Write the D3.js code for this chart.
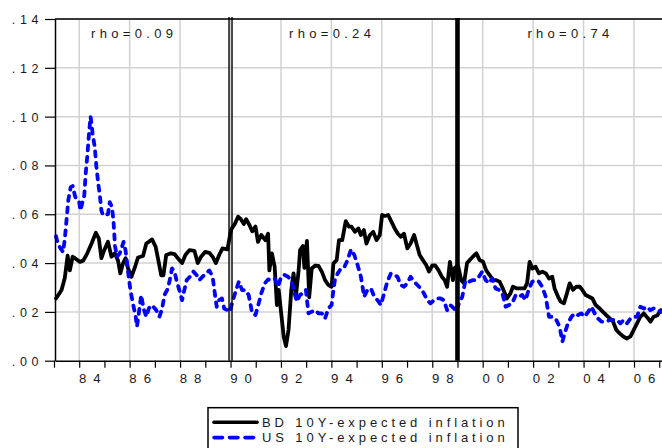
<!DOCTYPE html>
<html>
<head>
<meta charset="utf-8">
<script src="https://cdn.jsdelivr.net/npm/d3@7"></script>
<style>
  html, body { margin: 0; padding: 0; background: #fff; }
  svg { display: block; }
  text { font-family: "Liberation Sans", Arial, sans-serif; fill: #1a1a1a; }
</style>
</head>
<body>
<svg id="chart" width="662" height="448"></svg>
<script>
// German (BD) 10-year expected inflation, monthly-ish readings (decimal year, rate)
const bdDates = [
  1983.08, 1983.30, 1983.43, 1983.54, 1983.63, 1983.74, 1983.83, 1984.03, 1984.16, 1984.32,
  1984.49, 1984.66, 1984.78, 1984.88, 1984.97, 1985.14, 1985.28, 1985.41, 1985.54, 1985.63,
  1985.74, 1985.84, 1985.93, 1986.07, 1986.20, 1986.33, 1986.53, 1986.66, 1986.76, 1986.89,
  1987.03, 1987.16, 1987.25, 1987.34, 1987.45, 1987.64, 1987.78, 1987.91, 1988.08, 1988.21,
  1988.37, 1988.57, 1988.70, 1988.83, 1989.00, 1989.16, 1989.29, 1989.42, 1989.55, 1989.68,
  1989.88, 1989.99, 1990.04, 1990.17, 1990.30, 1990.41, 1990.53, 1990.62, 1990.75, 1990.86,
  1990.99, 1991.09, 1991.22, 1991.38, 1991.49, 1991.54, 1991.64, 1991.75, 1991.84, 1991.91,
  1992.01, 1992.11, 1992.20, 1992.30, 1992.41, 1992.50, 1992.59, 1992.70, 1992.76, 1992.87,
  1992.93, 1993.03, 1993.12, 1993.22, 1993.36, 1993.49, 1993.62, 1993.75, 1993.88, 1994.01,
  1994.08, 1994.21, 1994.30, 1994.43, 1994.57, 1994.70, 1994.80, 1994.93, 1995.07, 1995.17,
  1995.29, 1995.39, 1995.53, 1995.66, 1995.79, 1995.92, 1996.01, 1996.12, 1996.25, 1996.38,
  1996.51, 1996.64, 1996.75, 1996.88, 1997.01, 1997.14, 1997.28, 1997.41, 1997.50, 1997.63,
  1997.76, 1997.87, 1998.00, 1998.12, 1998.25, 1998.38, 1998.49, 1998.59, 1998.70, 1998.82,
  1998.89, 1999.02, 1999.15, 1999.26, 1999.38, 1999.48, 1999.61, 1999.75, 1999.88, 2000.01,
  2000.14, 2000.28, 2000.41, 2000.54, 2000.67, 2000.80, 2000.96, 2001.10, 2001.20, 2001.36,
  2001.53, 2001.66, 2001.76, 2001.86, 2001.97, 2002.10, 2002.23, 2002.37, 2002.50, 2002.63,
  2002.76, 2002.85, 2002.99, 2003.09, 2003.22, 2003.34, 2003.45, 2003.58, 2003.71, 2003.85,
  2003.95, 2004.08, 2004.22, 2004.35, 2004.48, 2004.64, 2004.77, 2004.90, 2005.04, 2005.17,
  2005.30, 2005.43, 2005.59, 2005.72, 2005.86, 2005.99, 2006.12, 2006.25, 2006.39, 2006.56,
  2006.65, 2006.78, 2006.92, 2007.06
];
const bdRates = [
  0.0255, 0.0290, 0.0340, 0.0430, 0.0370, 0.0426, 0.0420, 0.0405, 0.0410, 0.0440,
  0.0480, 0.0524, 0.0500, 0.0420, 0.0447, 0.0487, 0.0426, 0.0440, 0.0410, 0.0358,
  0.0400, 0.0420, 0.0380, 0.0344, 0.0380, 0.0423, 0.0429, 0.0480, 0.0487, 0.0497,
  0.0467, 0.0400, 0.0350, 0.0350, 0.0433, 0.0440, 0.0437, 0.0420, 0.0400, 0.0433,
  0.0453, 0.0450, 0.0400, 0.0426, 0.0446, 0.0442, 0.0426, 0.0400, 0.0433, 0.0460,
  0.0456, 0.0520, 0.0540, 0.0560, 0.0590, 0.0580, 0.0560, 0.0580, 0.0556, 0.0530,
  0.0550, 0.0487, 0.0515, 0.0494, 0.0520, 0.0370, 0.0440, 0.0385, 0.0228, 0.0290,
  0.0194, 0.0098, 0.0060, 0.0126, 0.0290, 0.0358, 0.0260, 0.0370, 0.0453, 0.0470,
  0.0380, 0.0491, 0.0260, 0.0378, 0.0390, 0.0388, 0.0365, 0.0330, 0.0310, 0.0303,
  0.0399, 0.0412, 0.0494, 0.0494, 0.0572, 0.0549, 0.0549, 0.0528, 0.0542, 0.0515,
  0.0535, 0.0480, 0.0515, 0.0528, 0.0494, 0.0515, 0.0597, 0.0593, 0.0597, 0.0570,
  0.0542, 0.0520, 0.0508, 0.0520, 0.0460, 0.0480, 0.0515, 0.0467, 0.0433, 0.0412,
  0.0392, 0.0365, 0.0390, 0.0390, 0.0370, 0.0344, 0.0330, 0.0303, 0.0405, 0.0330,
  0.0380, 0.0390, 0.0330, 0.0317, 0.0400, 0.0412, 0.0426, 0.0440, 0.0412, 0.0406,
  0.0370, 0.0350, 0.0330, 0.0330, 0.0324, 0.0296, 0.0255, 0.0276, 0.0303, 0.0296,
  0.0296, 0.0296, 0.0317, 0.0405, 0.0378, 0.0385, 0.0358, 0.0365, 0.0358, 0.0337,
  0.0344, 0.0296, 0.0262, 0.0242, 0.0235, 0.0276, 0.0317, 0.0290, 0.0303, 0.0303,
  0.0290, 0.0269, 0.0262, 0.0255, 0.0228, 0.0214, 0.0200, 0.0187, 0.0173, 0.0160,
  0.0126, 0.0112, 0.0098, 0.0091, 0.0100, 0.0126, 0.0153, 0.0180, 0.0194, 0.0173,
  0.0160, 0.0180, 0.0185, 0.0207
];

// US 10-year expected inflation (decimal year, rate)
const usDates = [
  1983.08, 1983.15, 1983.26, 1983.36, 1983.43, 1983.50, 1983.57, 1983.66, 1983.74, 1983.83,
  1983.89, 1984.00, 1984.05, 1984.13, 1984.20, 1984.26, 1984.32, 1984.39, 1984.45, 1984.49,
  1984.53, 1984.62, 1984.68, 1984.75, 1984.82, 1984.88, 1984.95, 1985.14, 1985.21, 1985.30,
  1985.36, 1985.42, 1985.50, 1985.61, 1985.76, 1985.84, 1985.93, 1986.03, 1986.13, 1986.24,
  1986.29, 1986.37, 1986.46, 1986.55, 1986.66, 1986.76, 1986.86, 1986.95, 1987.05, 1987.18,
  1987.29, 1987.38, 1987.49, 1987.58, 1987.68, 1987.78, 1987.87, 1987.97, 1988.08, 1988.17,
  1988.26, 1988.39, 1988.53, 1988.66, 1988.76, 1988.89, 1989.03, 1989.16, 1989.29, 1989.36,
  1989.45, 1989.55, 1989.66, 1989.75, 1989.88, 1989.97, 1990.08, 1990.20, 1990.33, 1990.46,
  1990.59, 1990.72, 1990.86, 1990.99, 1991.12, 1991.22, 1991.36, 1991.49, 1991.62, 1991.75,
  1991.88, 1992.01, 1992.14, 1992.28, 1992.41, 1992.51, 1992.63, 1992.76, 1992.89, 1992.99,
  1993.09, 1993.22, 1993.36, 1993.49, 1993.62, 1993.75, 1993.88, 1994.01, 1994.08, 1994.14,
  1994.25, 1994.38, 1994.51, 1994.64, 1994.78, 1994.91, 1995.04, 1995.17, 1995.30, 1995.43,
  1995.57, 1995.70, 1995.83, 1995.96, 1996.09, 1996.22, 1996.36, 1996.49, 1996.62, 1996.75,
  1996.88, 1997.01, 1997.14, 1997.28, 1997.41, 1997.54, 1997.67, 1997.80, 1997.93, 1998.07,
  1998.20, 1998.33, 1998.46, 1998.59, 1998.72, 1998.86, 1998.93, 1999.06, 1999.19, 1999.32,
  1999.46, 1999.59, 1999.72, 1999.85, 1999.98, 2000.12, 2000.25, 2000.38, 2000.51, 2000.65,
  2000.78, 2000.91, 2001.04, 2001.17, 2001.31, 2001.44, 2001.57, 2001.70, 2001.84, 2001.97,
  2002.10, 2002.23, 2002.36, 2002.50, 2002.63, 2002.76, 2002.89, 2003.05, 2003.16, 2003.25,
  2003.38, 2003.52, 2003.65, 2003.78, 2003.91, 2004.04, 2004.18, 2004.31, 2004.44, 2004.57,
  2004.71, 2004.88, 2005.04, 2005.20, 2005.33, 2005.46, 2005.59, 2005.72, 2005.86, 2005.99,
  2006.12, 2006.25, 2006.39, 2006.52, 2006.65, 2006.78, 2006.96, 2007.06
];
const usRates = [
  0.0510, 0.0480, 0.0460, 0.0445, 0.0500, 0.0580, 0.0660, 0.0710, 0.0716, 0.0676,
  0.0660, 0.0649, 0.0615, 0.0650, 0.0676, 0.0770, 0.0838, 0.0932, 0.1000, 0.0970,
  0.0932, 0.0872, 0.0797, 0.0730, 0.0676, 0.0615, 0.0595, 0.0600, 0.0650, 0.0630,
  0.0570, 0.0470, 0.0426, 0.0440, 0.0487, 0.0450, 0.0370, 0.0290, 0.0235, 0.0180,
  0.0139, 0.0200, 0.0269, 0.0214, 0.0180, 0.0214, 0.0228, 0.0220, 0.0208, 0.0180,
  0.0214, 0.0269, 0.0290, 0.0324, 0.0378, 0.0365, 0.0324, 0.0290, 0.0248, 0.0290,
  0.0330, 0.0344, 0.0365, 0.0350, 0.0330, 0.0344, 0.0358, 0.0370, 0.0344, 0.0290,
  0.0221, 0.0248, 0.0255, 0.0214, 0.0207, 0.0200, 0.0242, 0.0283, 0.0324, 0.0289,
  0.0290, 0.0269, 0.0194, 0.0187, 0.0235, 0.0276, 0.0317, 0.0333, 0.0330, 0.0337,
  0.0303, 0.0344, 0.0351, 0.0344, 0.0330, 0.0290, 0.0242, 0.0270, 0.0276, 0.0290,
  0.0194, 0.0201, 0.0207, 0.0194, 0.0194, 0.0173, 0.0214, 0.0228, 0.0290, 0.0331,
  0.0358, 0.0378, 0.0382, 0.0412, 0.0456, 0.0433, 0.0392, 0.0344, 0.0262, 0.0290,
  0.0296, 0.0262, 0.0248, 0.0228, 0.0276, 0.0324, 0.0358, 0.0351, 0.0344, 0.0310,
  0.0303, 0.0317, 0.0344, 0.0324, 0.0310, 0.0296, 0.0276, 0.0248, 0.0235, 0.0248,
  0.0255, 0.0255, 0.0248, 0.0207, 0.0228, 0.0214, 0.0200, 0.0235, 0.0262, 0.0330,
  0.0324, 0.0330, 0.0330, 0.0344, 0.0365, 0.0330, 0.0317, 0.0337, 0.0296, 0.0290,
  0.0276, 0.0221, 0.0228, 0.0235, 0.0269, 0.0262, 0.0269, 0.0248, 0.0296, 0.0324,
  0.0330, 0.0324, 0.0303, 0.0262, 0.0180, 0.0180, 0.0173, 0.0139, 0.0078, 0.0112,
  0.0153, 0.0180, 0.0194, 0.0187, 0.0194, 0.0180, 0.0200, 0.0221, 0.0194, 0.0173,
  0.0160, 0.0160, 0.0167, 0.0167, 0.0167, 0.0153, 0.0167, 0.0153, 0.0173, 0.0180,
  0.0180, 0.0221, 0.0214, 0.0221, 0.0207, 0.0214, 0.0207, 0.0200
];

// Axis ticks and annotations
const yTickValues = [0, 0.02, 0.04, 0.06, 0.08, 0.10, 0.12, 0.14];
const xTickYears = d3.range(1983, 2008);
const xLabelYears = d3.range(1984, 2007, 2);
const regimeLabels = ["rho=0.09", "rho=0.24", "rho=0.74"];
const regimeCenters = [1986.1, 1993.95, 2003.4];
const reunificationYear = 1990.0;
const euroYear = 1999.0;
const seriesNames = ["BD 10Y-expected inflation", "US 10Y-expected inflation"];

const svg = d3.select("#chart");
const plotLeft = 55, plotTop = 19, plotRight = 663, plotBottom = 360.7;

const x = d3.scaleLinear().domain([1983.04, 2007.15]).range([plotLeft, plotRight]);
const y = d3.scaleLinear().domain([0, 0.14]).range([plotBottom, plotTop]);

const fmtY = v => d3.format(".2f")(v).replace(/^0/, "");
const fmtX = yr => String(yr % 100).padStart(2, "0");

// light grid
const grid = svg.append("g").attr("stroke", "#d2d2d2").attr("stroke-width", 1.5);
grid.selectAll("line.h").data(yTickValues.slice(1))
  .join("line").attr("class", "h")
  .attr("x1", plotLeft).attr("x2", plotRight)
  .attr("y1", d => y(d)).attr("y2", d => y(d));
grid.selectAll("line.v").data(xLabelYears)
  .join("line").attr("class", "v")
  .attr("x1", d => x(d)).attr("x2", d => x(d))
  .attr("y1", plotTop).attr("y2", plotBottom);

// series
const bd = bdDates.map((d, i) => [d, bdRates[i]]);
const us = usDates.map((d, i) => [d, usRates[i]]);
const line = d3.line().x(d => x(d[0])).y(d => y(d[1]));

svg.append("path").datum(bd)
  .attr("d", line).attr("fill", "none")
  .attr("stroke", "#000").attr("stroke-width", 3.8)
  .attr("stroke-linejoin", "round").attr("stroke-linecap", "round");

svg.append("path").datum(us)
  .attr("d", line).attr("fill", "none")
  .attr("stroke", "#0000ff").attr("stroke-width", 3.8)
  .attr("stroke-dasharray", "5,6.5")
  .attr("stroke-linejoin", "round").attr("stroke-linecap", "round");

// regime break markers
[-1.5, 1.5].forEach(off => {
  svg.append("line")
    .attr("x1", x(reunificationYear) + off).attr("x2", x(reunificationYear) + off)
    .attr("y1", plotTop - 2).attr("y2", plotBottom)
    .attr("stroke", "#000").attr("stroke-width", 1.4);
});
svg.append("line")
  .attr("x1", x(euroYear)).attr("x2", x(euroYear))
  .attr("y1", plotTop - 1).attr("y2", plotBottom)
  .attr("stroke", "#000").attr("stroke-width", 4.6);

// top frame line
svg.append("line").attr("x1", plotLeft).attr("x2", plotRight).attr("y1", plotTop).attr("y2", plotTop)
  .attr("stroke", "#000").attr("stroke-width", 1.5);

// y axis
const yAxis = svg.append("g").attr("transform", `translate(${plotLeft},0)`)
  .call(d3.axisLeft(y).tickValues(yTickValues).tickSize(10).tickSizeOuter(0).tickFormat(fmtY));
yAxis.select(".domain").attr("stroke", "#000").attr("stroke-width", 1.5);
yAxis.selectAll(".tick line").attr("stroke", "#000").attr("stroke-width", 1.2);
yAxis.selectAll(".tick text")
  .attr("x", -12).attr("dy", "0.36em")
  .style("font-family", "'Liberation Sans', Arial, sans-serif")
  .style("font-size", "12.5px").style("letter-spacing", "4.6px").attr("fill", "#1a1a1a");

// x axis
const xAxis = svg.append("g").attr("transform", `translate(0,${plotBottom})`)
  .call(d3.axisBottom(x).tickValues(xTickYears).tickSize(7).tickSizeOuter(0).tickFormat(""));
xAxis.select(".domain").attr("stroke", "#000").attr("stroke-width", 1.5);
xAxis.selectAll(".tick line").attr("stroke", "#000").attr("stroke-width", 1.2);

svg.append("g").selectAll("text").data(xLabelYears).join("text")
  .attr("x", d => x(d) - 0.3).attr("y", plotBottom + 22.3)
  .attr("text-anchor", "start")
  .style("font-size", "13.2px").style("letter-spacing", "7px")
  .text(fmtX);

// regime correlation labels
svg.append("g").selectAll("text").data(regimeLabels).join("text")
  .attr("x", (d, i) => x(regimeCenters[i]) + 2)
  .attr("y", 38)
  .attr("text-anchor", "middle")
  .style("font-size", "13px").style("letter-spacing", "4.3px")
  .text(d => d);

// legend
const lg = svg.append("g");
lg.append("rect").attr("x", 208).attr("y", 407.7).attr("width", 310).attr("height", 60)
  .attr("fill", "#fff").attr("stroke", "#000").attr("stroke-width", 1.5);
lg.append("line").attr("x1", 214).attr("x2", 257).attr("y1", 422.3).attr("y2", 422.3)
  .attr("stroke", "#000").attr("stroke-width", 3.6).attr("stroke-linecap", "round");
lg.append("line").attr("x1", 214).attr("x2", 257).attr("y1", 437.6).attr("y2", 437.6)
  .attr("stroke", "#0000ff").attr("stroke-width", 3.6).attr("stroke-linecap", "round")
  .attr("stroke-dasharray", "8.5,7");
lg.selectAll("text").data(seriesNames).join("text")
  .attr("x", 262).attr("y", (d, i) => 426.7 + i * 15.4)
  .style("font-size", "13px").style("letter-spacing", "3.9px")
  .text(d => d);
</script>
</body>
</html>
